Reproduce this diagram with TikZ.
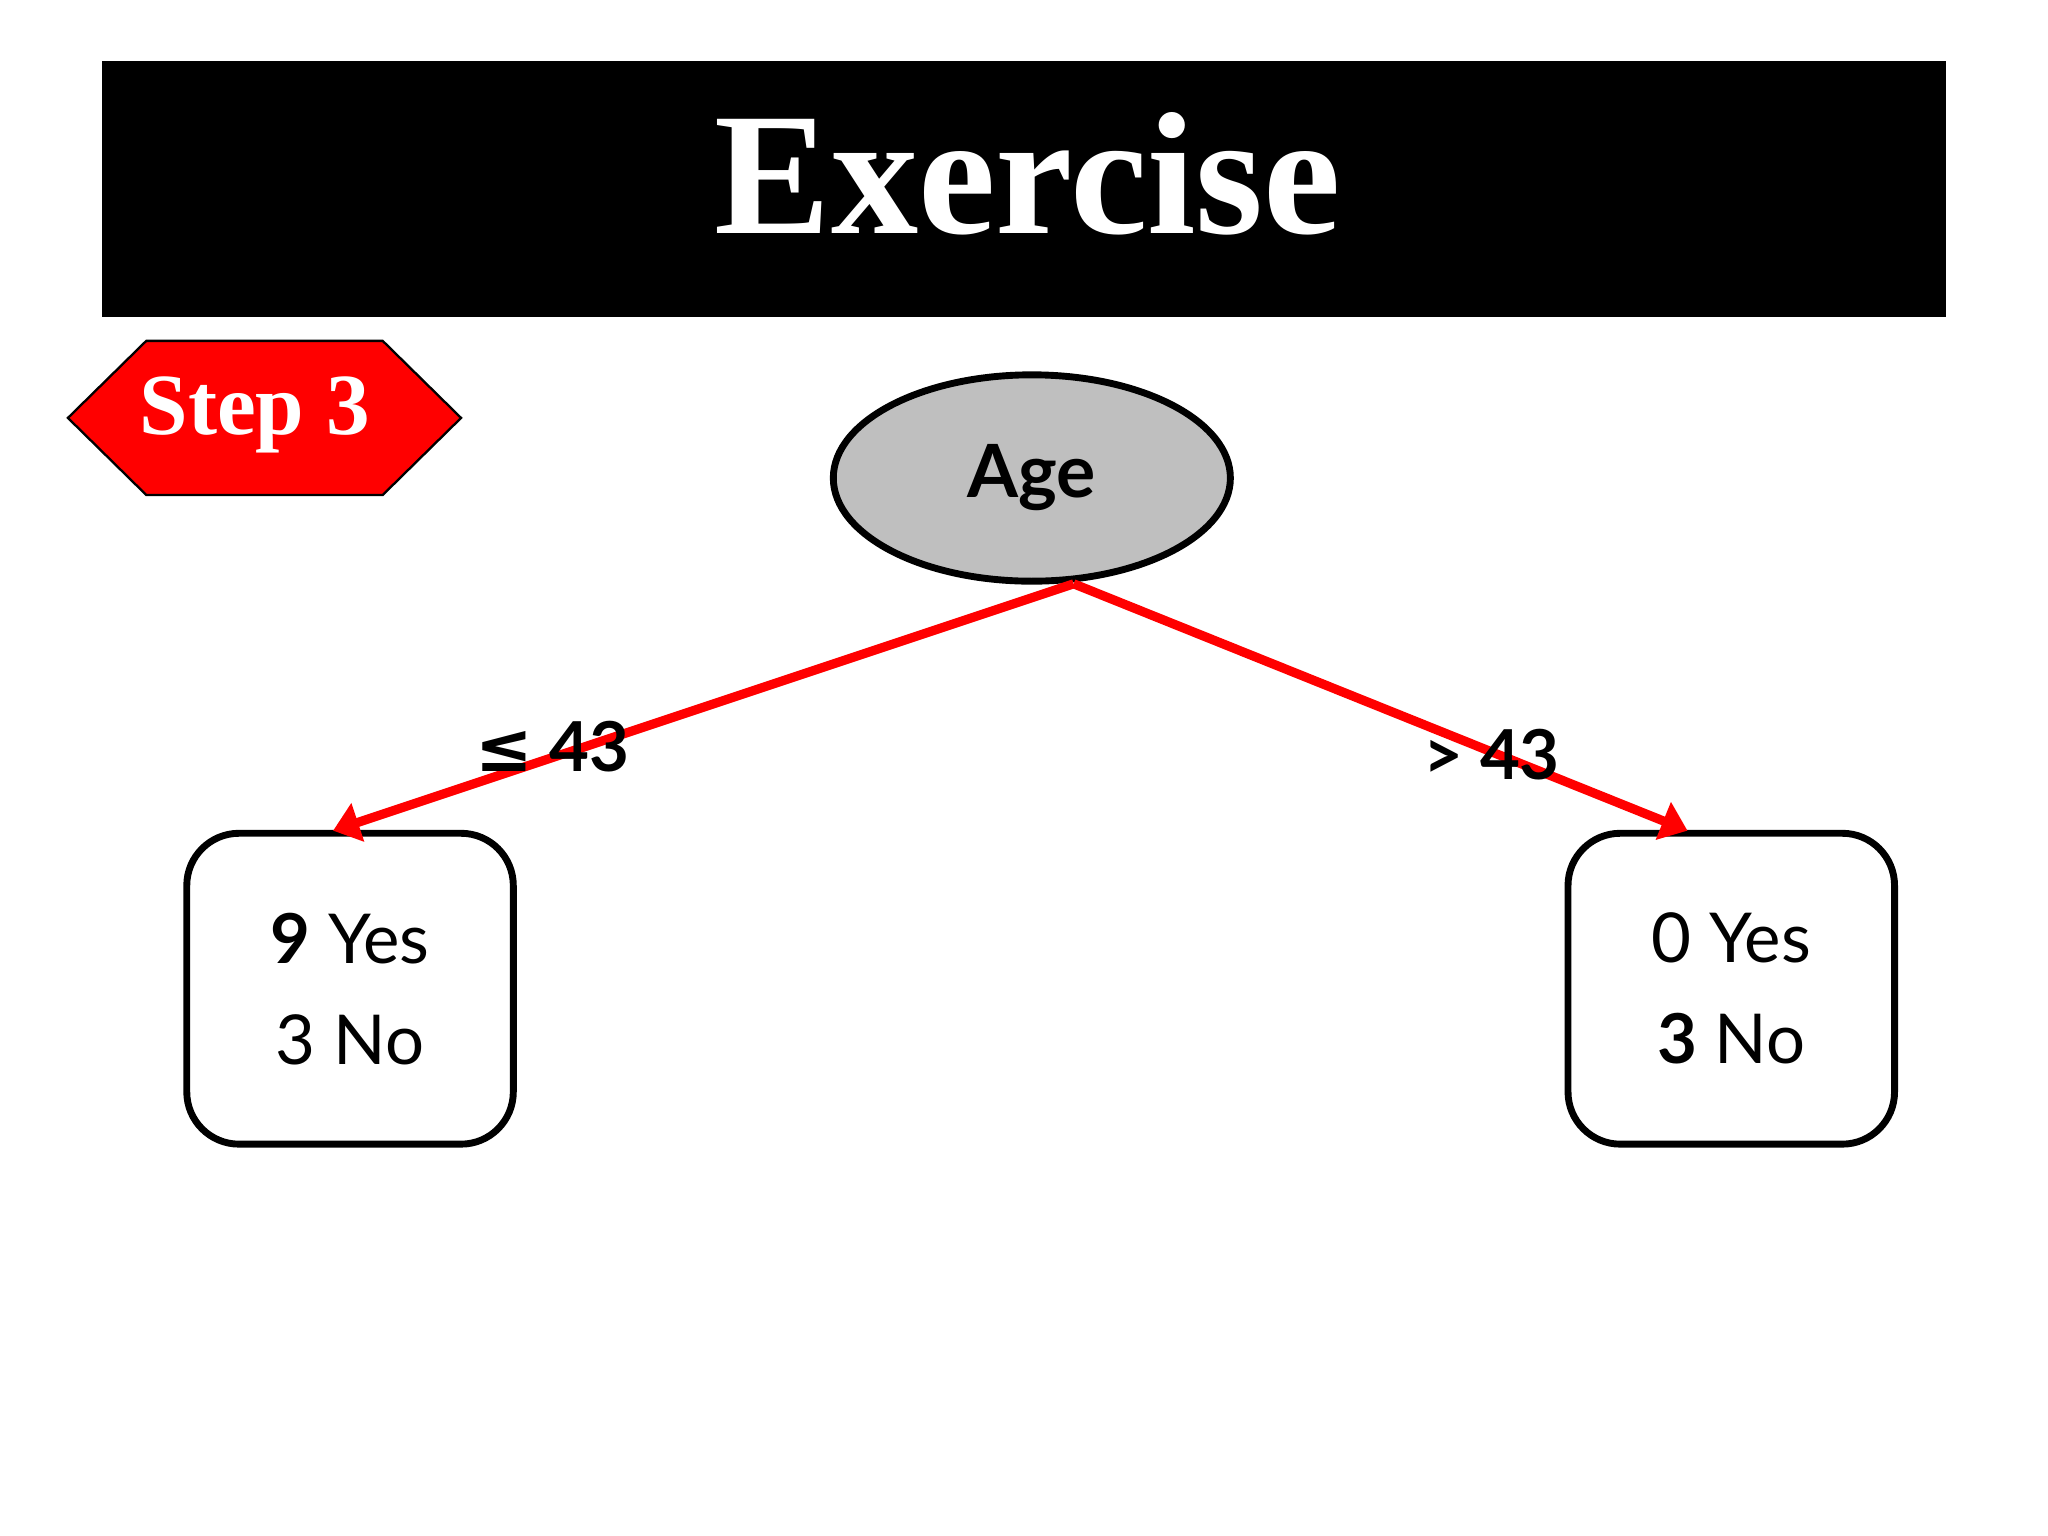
\documentclass[tikz,border=0pt]{standalone}
\usetikzlibrary{shapes.geometric,arrows.meta}
\usepackage{fontspec}
\setmainfont{Liberation Serif}
\setsansfont{Lato}
\newfontfamily\symfont{DejaVu Sans}
\begin{document}
\begin{tikzpicture}
\tikzset{ >=latex,
  leaf/.style={draw, line width=1.5pt, rounded corners=0.4cm, minimum width=2.5cm, minimum height=2.38cm, align=center, font=\sffamily\fontsize{15}{22}\selectfont},
  split/.style={red, line width=2pt, ->, >={Triangle[length=0.2cm,width=0.3cm]}},
  cond/.style={font=\sffamily\bfseries\fontsize{15}{15}\selectfont},
}
\useasboundingbox (0,0) rectangle (15.68,11.76);
\fill [white] (0,0) rectangle (15.68,11.76);

% banner
\fill [black] (0.78,9.33) rectangle (14.90,11.29);
\node [text=white, font=\bfseries\fontsize{38}{38}\selectfont] (T) at (7.87,10.43) {Exercise};

% step badge
\draw [fill=red, line width=0.5pt] (0.52,8.56) -- (1.12,9.15) -- (2.93,9.15) -- (3.53,8.56) -- (2.93,7.97) -- (1.12,7.97) -- cycle;
\node [text=white, font=\bfseries\fontsize{19}{19}\selectfont] (S) at (1.95,8.58) {Step 3};

% tree
\node [draw, line width=1.5pt, ellipse, fill=gray!50, minimum width=3.04cm, minimum height=1.58cm, font=\sffamily\bfseries\fontsize{16}{16}\selectfont] (A) at (7.90,8.10) {Age};
\node [leaf] (L) at (2.68,4.19) {\textbf{9} Yes\\3 No};
\node [leaf] (R) at (13.255,4.19) {0 Yes\\\textbf{3} No};

\coordinate (P) at (8.22,7.29);
\coordinate (LE) at (2.55,5.40);
\coordinate (RE) at (12.92,5.40);
\draw [split] (P) -- (LE);
\draw [split] (P) -- (RE);

\node [cond] (C1) at (4.23,6.04) {{\symfont ≤} 43};
\node [cond] (C2) at (11.42,5.98) {> 43};
\end{tikzpicture}
\end{document}
